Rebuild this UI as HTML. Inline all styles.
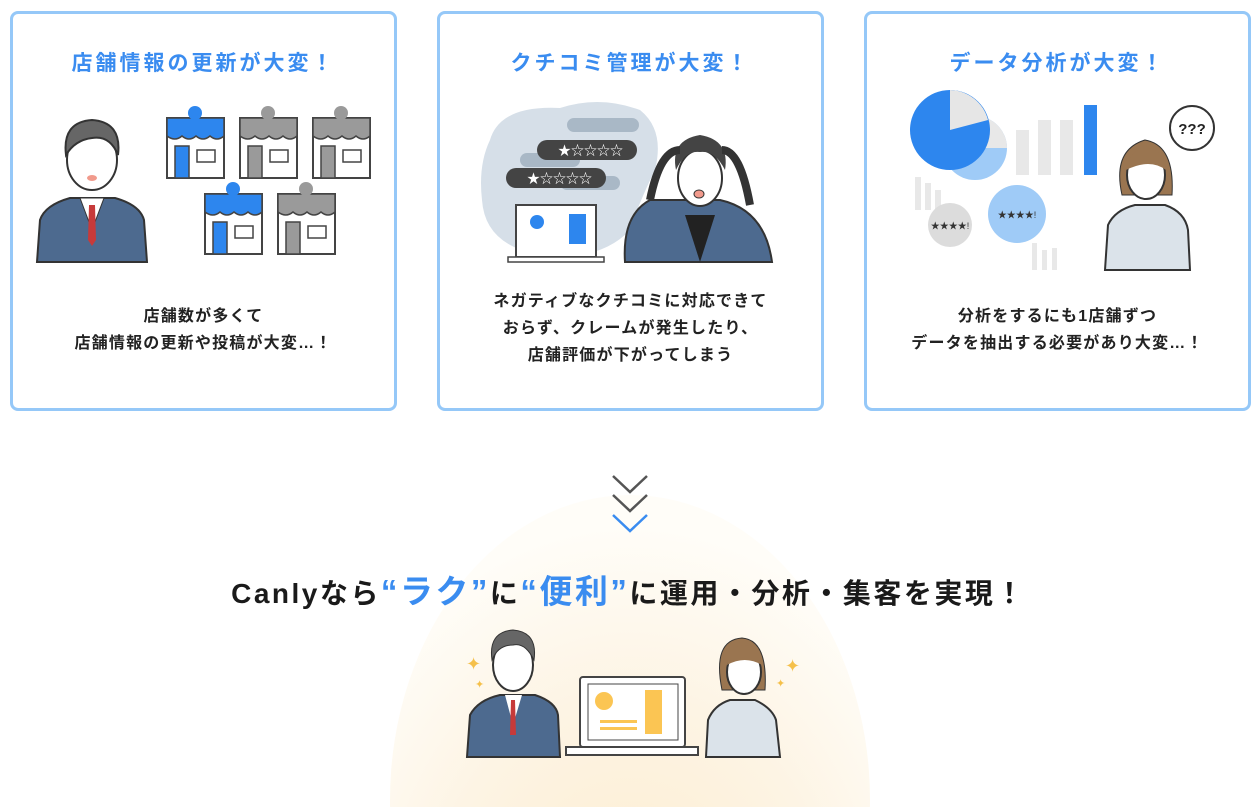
<!DOCTYPE html>
<html><head><meta charset="utf-8"><style>
*{margin:0;padding:0;box-sizing:border-box}
html,body{width:1257px;height:807px;overflow:hidden}
body{background:#fff;position:relative;font-family:"Liberation Sans","Noto Sans CJK JP",sans-serif}
.card{position:absolute;top:11px;width:387px;height:400px;border:3px solid #95c8f8;border-radius:8px;background:#fff}
.t{position:absolute;left:0;right:0;top:33px;text-align:center;color:#3a8cf0;font-weight:bold;font-size:21px;letter-spacing:3px}
.b{position:absolute;left:0;right:0;text-align:center;color:#222;font-weight:bold;font-size:16px;line-height:27px;letter-spacing:1.2px}
svg{position:absolute;left:0;top:0}
.h{position:absolute;left:0;right:0;top:565px;text-align:center;font-weight:bold;font-size:28px;letter-spacing:2.5px;color:#1a1a1a}
.h span{color:#3a8cf0;font-size:33px}
</style></head><body>
<svg width="1257" height="807">
<defs>
<radialGradient id="g" cx="0.5" cy="0.75" r="0.7">
<stop offset="0" stop-color="#fdeccd"/><stop offset="0.6" stop-color="#fdf4e4"/><stop offset="1" stop-color="#fffdf8"/></radialGradient>
</defs>
<ellipse cx="630" cy="800" rx="240" ry="305" fill="url(#g)"/>
</svg>
<div class="card" style="left:10px"><div class="t">店舗情報の更新が大変！</div><div class="b" style="top:289px">店舗数が多くて<br>店舗情報の更新や投稿が大変…！</div></div>
<div class="card" style="left:437px"><div class="t">クチコミ管理が大変！</div><div class="b" style="top:274px">ネガティブなクチコミに対応できて<br>おらず、クレームが発生したり、<br>店舗評価が下がってしまう</div></div>
<div class="card" style="left:864px"><div class="t">データ分析が大変！</div><div class="b" style="top:289px">分析をするにも1店舗ずつ<br>データを抽出する必要があり大変…！</div></div>
<svg width="1257" height="807">
<defs>
<g id="shop">
<rect x="0" y="8" width="57" height="60" fill="#fff" stroke="#444" stroke-width="2"/>
<path d="M0 8 L57 8 L57 26 Q50 32 43 26 Q36 32 29 26 Q22 32 15 26 Q8 32 0 26Z" fill="currentColor" stroke="#444" stroke-width="1.5"/>
<rect x="8" y="36" width="14" height="32" fill="currentColor" stroke="#444" stroke-width="1.5"/>
<rect x="30" y="40" width="18" height="12" fill="#fff" stroke="#444" stroke-width="1.5"/>
<circle cx="28" cy="3" r="7" fill="currentColor"/>
</g>
</defs>
<!-- card1 man -->
<path d="M37 262 L40 220 Q45 205 70 198 L115 198 Q140 205 144 220 L147 262 Z" fill="#4d6a8f" stroke="#333" stroke-width="2"/>
<path d="M80 198 L92 230 L104 198 Z" fill="#fff" stroke="#333"/>
<path d="M89 205 L95 205 L96 240 L92 246 L88 240 Z" fill="#c73a3a"/>
<ellipse cx="92" cy="160" rx="25" ry="30" fill="#fff" stroke="#333" stroke-width="2"/>
<path d="M66 155 Q62 122 92 120 Q122 122 118 155 Q110 135 92 138 Q75 140 66 155Z" fill="#666" stroke="#333" stroke-width="2"/>
<ellipse cx="92" cy="178" rx="5" ry="3" fill="#f19a8c"/>
<use href="#shop" x="167" y="110" color="#2d86ee"/>
<use href="#shop" x="240" y="110" color="#9a9a9a"/>
<use href="#shop" x="313" y="110" color="#9a9a9a"/>
<use href="#shop" x="205" y="186" color="#2d86ee"/>
<use href="#shop" x="278" y="186" color="#9a9a9a"/>
<!-- card2 -->
<path d="M490 140 Q500 105 560 108 Q600 95 640 110 Q665 130 655 170 Q640 200 630 230 Q600 262 540 255 Q485 245 482 200 Q478 165 490 140Z" fill="#d6dfe8"/>
<rect x="567" y="118" width="72" height="14" rx="7" fill="#a9b8c6"/>
<rect x="520" y="153" width="60" height="14" rx="7" fill="#a9b8c6"/>
<rect x="560" y="176" width="60" height="14" rx="7" fill="#a9b8c6"/>
<rect x="537" y="140" width="100" height="20" rx="10" fill="#444"/>
<text x="558" y="155" font-size="13" fill="#fff">★☆☆☆☆</text>
<rect x="506" y="168" width="100" height="20" rx="10" fill="#444"/>
<text x="527" y="183" font-size="13" fill="#fff">★☆☆☆☆</text>
<rect x="516" y="205" width="80" height="52" fill="#fff" stroke="#444" stroke-width="2"/>
<circle cx="537" cy="222" r="7" fill="#2d86ee"/><rect x="569" y="214" width="17" height="30" fill="#2d86ee"/>
<rect x="508" y="257" width="96" height="5" fill="#fff" stroke="#444" stroke-width="1.5"/>
<path d="M625 262 Q622 215 650 200 L720 200 Q765 210 772 262Z" fill="#4d6a8f" stroke="#333" stroke-width="2"/>
<path d="M685 215 L700 262 L715 215Z" fill="#222"/>
<ellipse cx="700" cy="178" rx="22" ry="28" fill="#fff" stroke="#333" stroke-width="2"/>
<path d="M676 170 Q670 140 700 135 Q730 140 725 170 Q715 150 700 152 Q685 150 676 170Z" fill="#444"/>
<path d="M650 200 Q660 150 680 150 M750 205 Q740 150 722 150" stroke="#333" stroke-width="8" fill="none"/>
<ellipse cx="699" cy="194" rx="5" ry="4" fill="#f19a8c" stroke="#333"/>
<!-- card3 -->
<circle cx="975" cy="148" r="32" fill="#9fcbf7"/>
<path d="M975 148 L975 116 A32 32 0 0 1 1007 148Z" fill="#e8e8e8"/>
<circle cx="950" cy="130" r="40" fill="#2d86ee"/>
<path d="M950 130 L950 90 A40 40 0 0 1 988 120Z" fill="#e6e6e6"/>
<rect x="1016" y="130" width="13" height="45" fill="#e8e8e8"/><rect x="1038" y="120" width="13" height="55" fill="#e8e8e8"/><rect x="1060" y="120" width="13" height="55" fill="#e8e8e8"/>
<rect x="1084" y="105" width="13" height="70" fill="#2d86ee"/>
<rect x="915" y="177" width="6" height="33" fill="#e8e8e8"/><rect x="925" y="183" width="6" height="27" fill="#e8e8e8"/><rect x="935" y="190" width="6" height="20" fill="#e8e8e8"/>
<rect x="1032" y="243" width="5" height="27" fill="#e8e8e8"/><rect x="1042" y="250" width="5" height="20" fill="#e8e8e8"/><rect x="1052" y="248" width="5" height="22" fill="#e8e8e8"/>
<circle cx="950" cy="225" r="22" fill="#dcdcdc"/><text x="950" y="229" font-size="9" text-anchor="middle" fill="#333">★★★★!</text>
<circle cx="1017" cy="214" r="29" fill="#9fcbf7"/><text x="1017" y="218" font-size="9" text-anchor="middle" fill="#333">★★★★!</text>
<path d="M1105 270 L1108 225 Q1115 210 1135 205 L1165 205 Q1185 212 1188 230 L1190 270Z" fill="#dbe3ea" stroke="#333" stroke-width="2"/>
<path d="M1122 195 Q1112 150 1145 140 Q1175 145 1172 195Z" fill="#9a7550" stroke="#333"/>
<ellipse cx="1146" cy="175" rx="19" ry="24" fill="#fff" stroke="#333" stroke-width="2"/>
<path d="M1126 170 Q1130 148 1148 148 Q1165 150 1166 170 Q1150 158 1126 170Z" fill="#9a7550"/>
<circle cx="1192" cy="128" r="22" fill="#fff" stroke="#333" stroke-width="2"/>
<text x="1192" y="134" font-size="15" font-weight="bold" text-anchor="middle" fill="#222">???</text>
<!-- chevrons -->
<path d="M613 476 L630 492 L647 476 M613 495 L630 511 L647 495" stroke="#555" stroke-width="2.5" fill="none"/>
<path d="M613 515 L630 531 L647 515" stroke="#3a8cf0" stroke-width="2.5" fill="none"/>
<!-- bottom illustration -->
<path d="M467 757 L470 715 Q478 700 500 695 L535 695 Q556 702 558 715 L560 757Z" fill="#4d6a8f" stroke="#333" stroke-width="2"/>
<path d="M505 695 L513 725 L522 695Z" fill="#fff"/><path d="M511 700 L515 700 L516 735 L510 735Z" fill="#c73a3a"/>
<ellipse cx="513" cy="665" rx="20" ry="26" fill="#fff" stroke="#333" stroke-width="2"/>
<path d="M492 660 Q488 632 513 630 Q538 632 534 660 Q525 642 513 645 Q498 645 492 660Z" fill="#666" stroke="#333"/>
<rect x="580" y="677" width="105" height="70" rx="3" fill="#fff" stroke="#444" stroke-width="2"/>
<rect x="588" y="684" width="90" height="56" fill="#fff" stroke="#444"/>
<circle cx="604" cy="701" r="9" fill="#fbc553"/><rect x="645" y="690" width="17" height="44" fill="#fbc553"/>
<rect x="600" y="720" width="37" height="3" fill="#fbc553"/><rect x="600" y="727" width="37" height="3" fill="#fbc553"/>
<rect x="566" y="747" width="132" height="8" fill="#fff" stroke="#444" stroke-width="2"/>
<path d="M706 757 L708 720 Q714 705 730 700 L755 700 Q772 708 776 720 L780 757Z" fill="#dbe3ea" stroke="#333" stroke-width="2"/>
<path d="M722 690 Q712 640 742 638 Q768 640 765 690Z" fill="#9a7550" stroke="#333"/>
<ellipse cx="744" cy="672" rx="17" ry="22" fill="#fff" stroke="#333" stroke-width="2"/>
<path d="M727 665 Q730 645 745 645 Q760 647 762 665 Q745 655 727 665Z" fill="#9a7550"/>
<text x="466" y="670" font-size="18" fill="#f5c04a">✦</text><text x="475" y="688" font-size="11" fill="#f5c04a">✦</text>
<text x="785" y="672" font-size="18" fill="#f5c04a">✦</text><text x="776" y="687" font-size="11" fill="#f5c04a">✦</text>
</svg>
<div class="h">Canlyなら<span>“ラク”</span>に<span>“便利”</span>に運用・分析・集客を実現！</div>
</body></html>
